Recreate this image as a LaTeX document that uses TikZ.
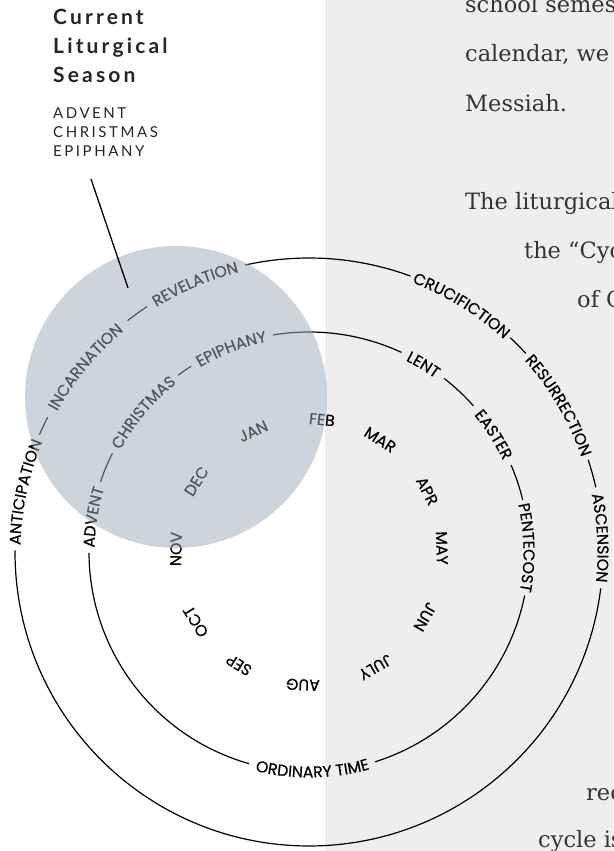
\documentclass[tikz,border=0pt]{standalone}
\usepackage{fontspec}
\usetikzlibrary{decorations.text,calc}
\newfontfamily\lblfam{Poppins}[FakeBold=0.4]
\newfontfamily\titlefam{Lato}[LetterSpace=15]
\newfontfamily\subfam{Lato}[LetterSpace=17]
\newfontfamily\bodyfam{DejaVu Serif}
\definecolor{panelgray}{HTML}{EEEEEE}
\definecolor{shadeblue}{RGB}{157,171,185}
\definecolor{inkdark}{HTML}{262626}
\definecolor{bodyink}{HTML}{333333}
\newcommand\lbl{\lblfam\fontsize{15.8}{15.8}\selectfont}
\newcommand\cwlabel[3]{\path[decorate,decoration={text along path,text align=center,text={|\lbl|#3}}] (#1+35:#2) arc[start angle=#1+35, end angle=#1-35, radius=#2];}
\newcommand\ccwlabel[3]{\path[decorate,decoration={text along path,text align=center,text={|\lbl|#3}}] (#1-35:#2) arc[start angle=#1-35, end angle=#1+35, radius=#2];}
\tikzset{
  ring/.style={line width=1.2pt, black},
  month/.style={font=\lbl, inner sep=0pt, anchor=center},
  bodytext/.style={font=\bodyfam\fontsize{22.5}{22.5}\selectfont, text=bodyink, anchor=base west, inner sep=0pt},
  titletext/.style={font=\titlefam\bfseries\fontsize{21}{21}\selectfont, text=inkdark, anchor=base west, inner sep=0pt},
  subtext/.style={font=\subfam\fontsize{15}{15}\selectfont, text=inkdark, anchor=base west, inner sep=0pt},
}
\begin{document}
\begin{tikzpicture}[x=1pt,y=1pt]
\useasboundingbox (0,0) rectangle (613,851);
\clip (0,0) rectangle (613,851);
\fill[white] (0,0) rectangle (324.5,851);
\fill[panelgray] (324.5,0) rectangle (613,851);

% body text on the right
\node[bodytext] (b1) at (465,838.5) {school semest};
\node[bodytext] (b2) at (465,789.3) {calendar, we o};
\node[bodytext] (b3) at (465,739.3) {Messiah.};
\node[bodytext] (b4) at (465,641) {The liturgical};
\node[bodytext] (b5) at (524,592.7) {the “Cyc};
\node[bodytext] (b6) at (577,543.5) {of C};
\node[bodytext] (b7) at (586,50.3) {rec};
\node[bodytext] (b8) at (538,4) {cycle is};

% titles
\node[titletext] (t1) at (53,826) {Current};
\node[titletext] (t2) at (53,797.5) {Liturgical};
\node[titletext] (t3) at (53,768) {Season};
\node[subtext] (s1) at (53,732.7) {ADVENT};
\node[subtext] (s2) at (53,713.7) {CHRISTMAS};
\node[subtext] (s3) at (53,694.3) {EPIPHANY};

\coordinate (C) at (309,299);
\begin{scope}[shift={(C)}]
% outer ring lines
\draw[ring] (179.7:294) arc[start angle=179.7, end angle=352.9, radius=294];
\draw[ring] (12.7:294) arc[start angle=12.7, end angle=18.3, radius=294];
\draw[ring] (42.5:294) arc[start angle=42.5, end angle=46.8, radius=294];
\draw[ring] (69.8:294) arc[start angle=69.8, end angle=102.6, radius=294];
\draw[ring] (123.4:294) arc[start angle=123.4, end angle=128.1, radius=294];
\draw[ring] (152.7:294) arc[start angle=152.7, end angle=156.5, radius=294];
% inner ring lines
\draw[ring] (180.2:220) arc[start angle=180.2, end angle=254.2, radius=220];
\draw[ring] (287.5:220) arc[start angle=287.5, end angle=348.6, radius=220];
\draw[ring] (13.7:220) arc[start angle=13.7, end angle=23.3, radius=220];
\draw[ring] (41.6:220) arc[start angle=41.6, end angle=52.1, radius=220];
\draw[ring] (65.1:220) arc[start angle=65.1, end angle=99.4, radius=220];
\draw[ring] (122.4:220) arc[start angle=122.4, end angle=126.5, radius=220];
\draw[ring] (153.3:220) arc[start angle=153.3, end angle=161.4, radius=220];
% outer labels
\cwlabel{168.1}{288.5}{ANTICIPATION}
\cwlabel{140.4}{288.5}{INCARNATION}
\cwlabel{113.0}{288.5}{REVELATION}
\cwlabel{58.3}{288.5}{CRUCIFICTION}
\cwlabel{30.4}{288.5}{RESURRECTION}
\cwlabel{2.8}{288.5}{ASCENSION}
% inner labels
\cwlabel{170.8}{214.5}{ADVENT}
\cwlabel{139.9}{214.5}{CHRISTMAS}
\cwlabel{110.9}{214.5}{EPIPHANY}
\cwlabel{58.6}{214.5}{LENT}
\cwlabel{32.45}{214.5}{EASTER}
\cwlabel{1.15}{214.5}{PENTECOST}
\ccwlabel{270.9}{225.5}{ORDINARY TIME}
% months
\node[month, rotate=-88.3] (may) at (1.7:133) {MAY};
\node[month, rotate=-62.7] (apr) at (27.3:133) {APR};
\node[month, rotate=-32.4] (mar) at (57.6:133) {MAR};
\node[month, rotate=-5.6] (feb) at (84.4:133) {FEB};
\node[month, rotate=24.8] (jan) at (114.8:133) {JAN};
\node[month, rotate=57.8] (dec) at (147.8:133) {DEC};
\node[month, rotate=88.7] (nov) at (178.7:133) {NOV};
\node[month, rotate=121.6] (oct) at (211.6:133) {OCT};
\node[month, rotate=148.2] (sep) at (238.2:133) {SEP};
\node[month, rotate=177.4] (aug) at (267.4:133) {AUG};
\node[month, rotate=210] (jul) at (300:133) {JULY};
\node[month, rotate=240.8] (jun) at (330.8:133) {JUN};
\end{scope}

% highlighted season
\fill[shadeblue, fill opacity=0.5] (176,454) circle[radius=151];
\coordinate (ptop) at (91,672);
\coordinate (pbot) at (128,563);
\draw[line width=1.3pt, black] (ptop) -- (pbot);
\end{tikzpicture}
\end{document}
